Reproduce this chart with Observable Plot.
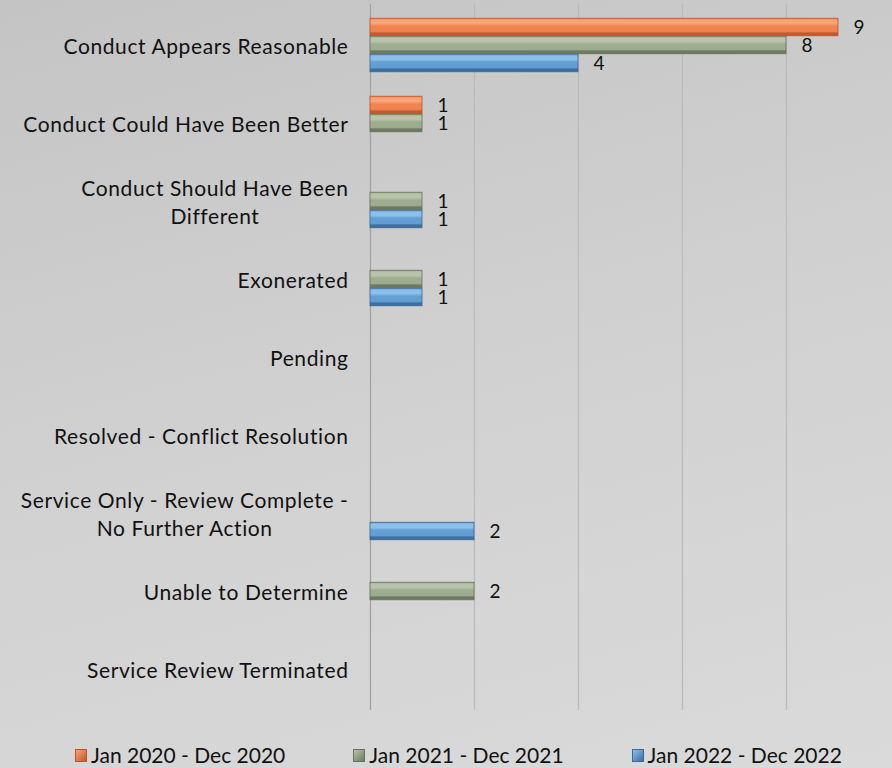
<!DOCTYPE html>
<html>
<head>
<meta charset="utf-8">
<script src="https://cdn.jsdelivr.net/npm/d3@7"></script>
<script src="https://cdn.jsdelivr.net/npm/@observablehq/plot@0.6"></script>
<style>
  html, body { margin: 0; padding: 0; }
  body {
    width: 892px; height: 768px; overflow: hidden; position: relative;
    background: linear-gradient(165deg, #c4c4c4 0%, #d1d1d1 50%, #dadada 100%);
    font-family: Lato, "Liberation Sans", sans-serif;
  }
  #chart { position: absolute; left: 0; top: 0; }
  #chart text { letter-spacing: 0.6px; }
  #legend {
    position: absolute; left: 75px; top: 745px; display: flex; gap: 68px;
    font-size: 21px; line-height: 20px; color: #111;
  }
  .item { display: flex; align-items: center; white-space: nowrap; }
  .sw { width: 12px; height: 13px; margin-right: 4px; box-sizing: border-box; }
</style>
</head>
<body>
<div id="chart"></div>
<div id="legend"></div>
<script>
// ---- data ----
const categories = [
  "Conduct Appears Reasonable",
  "Conduct Could Have Been Better",
  "Conduct Should Have Been\nDifferent",
  "Exonerated",
  "Pending",
  "Resolved - Conflict Resolution",
  "Service Only - Review Complete -\nNo Further Action",
  "Unable to Determine",
  "Service Review Terminated"
];
const series = ["Jan 2020 - Dec 2020", "Jan 2021 - Dec 2021", "Jan 2022 - Dec 2022"];
const values2020 = [9, 1, 0, 0, 0, 0, 0, 0, 0];
const values2021 = [8, 1, 1, 1, 0, 0, 0, 2, 0];
const values2022 = [4, 0, 1, 1, 0, 0, 2, 0, 0];
const xTicks = [0, 2, 4, 6, 8];
const xDomain = [0, 10];

// ---- styling ----
const seriesColors = [
  {light: "#fba277", main: "#f0834f", dark: "#c15a2e", edge: "#b5562e"},
  {light: "#b7c3aa", main: "#9eac90", dark: "#6d7960", edge: "#67735b"},
  {light: "#8cc0ea", main: "#639fd5", dark: "#3d6fa0", edge: "#3a6897"}
];

const allValues = [values2020, values2021, values2022];
const rows = [];
series.forEach((s, i) => categories.forEach((c, j) => {
  const v = allValues[i][j];
  if (v > 0) rows.push({category: c, series: s, si: i, value: v});
}));

const width = 892, height = 725;
const marginTop = 4, marginBottom = 15, marginLeft = 370, marginRight = 2;
const band = (height - marginTop - marginBottom) / categories.length;
const slot = 18;
const outer = (band - 3 * slot) / 2;

const marks = [
  Plot.ruleX(xTicks, {x: d => d, stroke: d => d === 0 ? "#a3a3a3" : "#bababa", strokeWidth: 1.3})
];
series.forEach((s, i) => {
  const data = rows.filter(r => r.si === i);
  marks.push(Plot.barX(data, {
    x: "value", y: "category",
    fill: `url(#barGrad${i})`, stroke: seriesColors[i].edge, strokeWidth: 0.8,
    insetTop: outer + i * slot, insetBottom: outer + (2 - i) * slot
  }));
  marks.push(Plot.text(data, {
    x: "value", y: "category", text: d => String(d.value),
    dx: 15, dy: (i - 1) * slot, textAnchor: "start", fontSize: 19, fill: "#111"
  }));
});
marks.push(Plot.text(categories, {
  x: 0, y: d => d, text: d => d, textAnchor: "end", dx: -22,
  fontSize: 21, lineHeight: 1.33, fill: "#111"
}));

const svg = Plot.plot({
  width, height, marginTop, marginBottom, marginLeft, marginRight,
  style: {background: "transparent", overflow: "visible", fontFamily: "Lato, 'Liberation Sans', sans-serif"},
  x: {domain: xDomain, axis: null},
  y: {domain: categories, padding: 0, axis: null},
  marks
});

// gradients for the bevelled bars
const ns = "http://www.w3.org/2000/svg";
const defs = document.createElementNS(ns, "defs");
seriesColors.forEach((c, i) => {
  const g = document.createElementNS(ns, "linearGradient");
  g.setAttribute("id", `barGrad${i}`);
  g.setAttribute("x1", "0"); g.setAttribute("y1", "0");
  g.setAttribute("x2", "0"); g.setAttribute("y2", "1");
  [[0, c.main], [0.12, c.light], [0.3, c.light], [0.45, c.main], [0.75, c.main], [0.85, c.dark], [1, c.dark]].forEach(([o, col]) => {
    const st = document.createElementNS(ns, "stop");
    st.setAttribute("offset", o);
    st.setAttribute("stop-color", col);
    g.appendChild(st);
  });
  defs.appendChild(g);
});
svg.insertBefore(defs, svg.firstChild);
document.getElementById("chart").appendChild(svg);

// center lines of multi-line category labels within their right-aligned block
svg.querySelectorAll("text").forEach(t => {
  const spans = t.querySelectorAll("tspan");
  if (spans.length > 1) {
    let w = 0;
    spans.forEach(s => { w = Math.max(w, s.getComputedTextLength()); });
    t.setAttribute("text-anchor", "middle");
    spans.forEach(s => s.setAttribute("x", -w / 2));
  }
});

// legend
const legend = document.getElementById("legend");
series.forEach((s, i) => {
  const item = document.createElement("div");
  item.className = "item";
  const sw = document.createElement("span");
  sw.className = "sw";
  sw.style.background = `linear-gradient(135deg, ${seriesColors[i].light}, ${seriesColors[i].dark})`;
  sw.style.border = `1px solid ${seriesColors[i].edge}`;
  const label = document.createElement("span");
  label.textContent = s;
  item.appendChild(sw); item.appendChild(label);
  legend.appendChild(item);
});
</script>
</body>
</html>
